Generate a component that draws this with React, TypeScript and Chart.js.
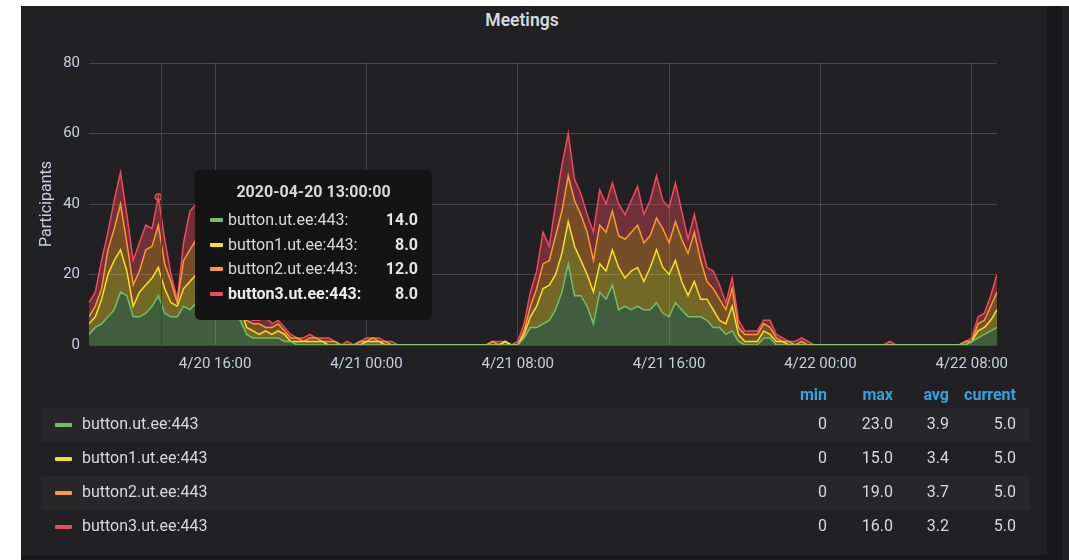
import React, { useEffect, useRef } from "react";
import { Chart, registerables } from "chart.js";

Chart.register(...registerables);

// ---------- data ----------
const seriesNames = ["button.ut.ee:443", "button1.ut.ee:443", "button2.ut.ee:443", "button3.ut.ee:443"];
const seriesColors = ["#73BF69", "#FADE2A", "#FF9830", "#F2495C"];

// samples every 20 minutes, starting 2020-04-20 09:20
const sampleStepHours = 1 / 3;

const buttonValues = [
  3, 5, 6, 8, 10, 15, 14, 8, 8, 9,
  11, 14, 9, 8, 8, 11, 10, 12, 11, 12,
  11, 10, 9, 8, 7, 3, 2, 2, 2, 2,
  2, 1, 1, 0, 0, 0, 0, 0, 0, 0,
  0, 0, 0, 0, 0, 0, 0, 0, 0, 0,
  0, 0, 0, 0, 0, 0, 0, 0, 0, 0,
  0, 0, 0, 0, 0, 0, 0, 0, 0, 2,
  5, 5, 6, 7, 10, 15, 23, 14, 14, 11,
  6, 15, 13, 17, 10, 11, 10, 11, 10, 10,
  12, 9, 8, 12, 10, 8, 8, 8, 7, 5,
  5, 3, 4, 1, 0, 0, 0, 2, 2, 0,
  0, 0, 0, 0, 0, 0, 0, 0, 0, 0,
  0, 0, 0, 0, 0, 0, 0, 0, 0, 0,
  0, 0, 0, 0, 0, 0, 0, 0, 0, 0,
  1, 2, 3, 4, 5,
];
const button1Values = [
  3, 3, 7, 12, 14, 12, 7, 3, 7, 8,
  8, 8, 7, 4, 3, 5, 8, 8, 8, 8,
  7, 6, 5, 4, 4, 2, 2, 1, 2, 1,
  2, 2, 0, 1, 1, 1, 1, 1, 0, 0,
  0, 0, 0, 0, 1, 1, 1, 0, 0, 0,
  0, 0, 0, 0, 0, 0, 0, 0, 0, 0,
  0, 0, 0, 0, 0, 0, 1, 0, 0, 1,
  3, 6, 10, 10, 10, 11, 12, 14, 10, 9,
  9, 8, 8, 10, 12, 8, 11, 11, 8, 12,
  15, 13, 12, 12, 8, 6, 10, 5, 6, 5,
  2, 3, 7, 2, 1, 1, 1, 2, 1, 1,
  1, 0, 0, 0, 0, 0, 0, 0, 0, 0,
  0, 0, 0, 0, 0, 0, 0, 0, 0, 0,
  0, 0, 0, 0, 0, 0, 0, 0, 0, 0,
  0, 2, 2, 3, 5,
];
const button2Values = [
  2, 3, 3, 7, 9, 13, 8, 6, 6, 10,
  9, 12, 7, 6, 1, 8, 9, 10, 9, 9,
  8, 7, 6, 5, 3, 2, 2, 3, 1, 2,
  2, 1, 1, 1, 0, 1, 1, 0, 1, 1,
  0, 0, 0, 1, 0, 1, 0, 1, 0, 0,
  0, 0, 0, 0, 0, 0, 0, 0, 0, 0,
  0, 0, 0, 0, 1, 0, 0, 0, 0, 1,
  3, 5, 7, 7, 11, 12, 13, 13, 13, 12,
  9, 11, 11, 11, 9, 11, 11, 12, 11, 9,
  9, 11, 9, 11, 12, 12, 14, 11, 5, 6,
  6, 4, 5, 2, 2, 2, 2, 2, 2, 1,
  0, 1, 0, 1, 0, 0, 0, 0, 0, 0,
  0, 0, 0, 0, 0, 0, 0, 0, 0, 0,
  0, 0, 0, 0, 0, 0, 0, 0, 0, 1,
  0, 2, 2, 4, 5,
];
const button3Values = [
  4, 4, 8, 5, 8, 9, 8, 7, 8, 7,
  5, 8, 7, 2, 1, 5, 11, 10, 8, 9,
  7, 7, 6, 5, 4, 1, 1, 1, 3, 1,
  1, 1, 1, 0, 1, 1, 0, 1, 1, 0,
  0, 1, 0, 0, 1, 0, 1, 0, 1, 0,
  0, 0, 0, 0, 0, 0, 0, 0, 0, 0,
  0, 0, 0, 0, 0, 1, 0, 0, 1, 2,
  4, 5, 9, 4, 9, 13, 12, 6, 6, 5,
  8, 10, 8, 8, 9, 7, 9, 11, 8, 10,
  12, 8, 10, 11, 8, 4, 5, 5, 4, 5,
  4, 2, 3, 2, 1, 1, 1, 1, 2, 1,
  1, 0, 1, 1, 1, 0, 0, 0, 0, 0,
  0, 0, 0, 0, 0, 0, 0, 1, 0, 0,
  0, 0, 0, 0, 0, 0, 0, 0, 0, 0,
  1, 2, 2, 3, 5,
];
const seriesValues = [buttonValues, button1Values, button2Values, button3Values];

// x axis in hours since 2020-04-20 09:20
const xMaxHours = 48;
const xTickHours = [20 / 3, 44 / 3, 68 / 3, 92 / 3, 116 / 3, 140 / 3];
const xTickLabels = ["4/20 16:00", "4/21 00:00", "4/21 08:00", "4/21 16:00", "4/22 00:00", "4/22 08:00"];
const yMax = 80;
const yTickStep = 20;
const yAxisTitle = "Participants";
const panelTitle = "Meetings";

// hover state
const hoverIndex = 11;
const hoverTimeLabel = "2020-04-20 13:00:00";
const crosshairHours = 3.8;

// legend table
const legendHeaders = ["min", "max", "avg", "current"];
const legendMin = ["0", "0", "0", "0"];
const legendMax = ["23.0", "15.0", "19.0", "16.0"];
const legendAvg = ["3.9", "3.4", "3.7", "3.2"];
const legendCurrent = ["5.0", "5.0", "5.0", "5.0"];

// ---------- styles ----------
const FONT = "Roboto, 'Noto Sans', sans-serif";
const PANEL_BG = "#212124";
const TEXT = "#d8d9da";
const TICK = "#c7d0d9";
const GRID = "rgba(255,255,255,0.17)";

function withAlpha(hex: string, a: number) {
  const n = parseInt(hex.slice(1), 16);
  return `rgba(${(n >> 16) & 255},${(n >> 8) & 255},${n & 255},${a})`;
}

const crosshairPlugin = {
  id: "crosshair",
  afterDatasetsDraw(chart: any) {
    const { ctx, chartArea, scales } = chart;
    const x = Math.round(scales.x.getPixelForValue(crosshairHours)) + 0.5;
    ctx.save();
    ctx.strokeStyle = "#b3121b";
    ctx.lineWidth = 1;
    ctx.beginPath();
    ctx.moveTo(x, chartArea.top);
    ctx.lineTo(x, chartArea.bottom);
    ctx.stroke();
    ctx.restore();
  },
};

function MeetingsChart() {
  const ref = useRef<HTMLCanvasElement | null>(null);
  useEffect(() => {
    if (!ref.current) return;
    const datasets = seriesValues.map((vals, k) => ({
      label: seriesNames[k],
      data: vals.map((v, i) => ({ x: i * sampleStepHours, y: v })),
      borderColor: seriesColors[k],
      backgroundColor: withAlpha(seriesColors[k], 0.38),
      borderWidth: 1.5,
      pointRadius: (c: any) => (k === 3 && c.dataIndex === hoverIndex ? 3 : 0),
      pointBorderColor: seriesColors[k],
      pointBackgroundColor: "rgba(0,0,0,0)",
      pointBorderWidth: 1.5,
      fill: k === 0 ? "origin" : "-1",
      tension: 0,
    }));
    const chart = new Chart(ref.current, {
      type: "line",
      data: { datasets } as any,
      options: {
        animation: false,
        responsive: false,
        devicePixelRatio: 1,
        events: [],
        layout: { padding: { left: 12, right: 50, top: 27, bottom: 0 } },
        plugins: {
          legend: { display: false },
          tooltip: { enabled: false },
          title: { display: false },
        },
        scales: {
          x: {
            type: "linear",
            min: 0,
            max: xMaxHours,
            afterBuildTicks: (s: any) => {
              s.ticks = xTickHours.map((v) => ({ value: v }));
            },
            afterFit: (s: any) => {
              s.height = 41;
            },
            grid: { color: GRID, drawTicks: false },
            border: { display: false },
            ticks: {
              autoSkip: false,
              maxRotation: 0,
              padding: 10,
              color: TICK,
              font: { family: FONT, size: 15 },
              callback: (_v: any, i: number) => xTickLabels[i],
            },
          },
          y: {
            stacked: true,
            min: 0,
            max: yMax,
            afterFit: (s: any) => {
              s.width = 56;
            },
            grid: { color: GRID, drawTicks: false },
            border: { display: false },
            ticks: {
              stepSize: yTickStep,
              padding: 9,
              color: TICK,
              font: { family: FONT, size: 15 },
            },
            title: {
              display: true,
              text: yAxisTitle,
              color: TICK,
              font: { family: FONT, size: 16 },
              padding: { top: 4, bottom: 0 },
            },
          },
        },
      } as any,
      plugins: [crosshairPlugin],
    });
    return () => chart.destroy();
  }, []);
  return (
    <canvas
      ref={ref}
      width={1026}
      height={350}
      style={{ position: "absolute", left: 21, top: 36, width: 1026, height: 350 }}
    />
  );
}

function Tooltip() {
  return (
    <div
      style={{
        position: "absolute",
        left: 195,
        top: 170,
        width: 237,
        height: 150,
        background: "#141414",
        borderRadius: 5,
        fontFamily: FONT,
        color: TEXT,
      }}
    >
      <div
        style={{
          position: "absolute",
          left: 0,
          width: 237,
          top: 12,
          textAlign: "center",
          fontWeight: 700,
          fontSize: 16,
          lineHeight: "20px",
        }}
      >
        {hoverTimeLabel}
      </div>
      {seriesNames.map((name, k) => (
        <div key={k} style={{ position: "absolute", left: 0, width: 237, top: 40 + k * 24.5, height: 20 }}>
          <div
            style={{
              position: "absolute",
              left: 15,
              top: 8,
              width: 13,
              height: 4,
              borderRadius: 1,
              background: seriesColors[k],
            }}
          />
          <div
            style={{
              position: "absolute",
              left: 33,
              top: 0,
              fontSize: 16,
              lineHeight: "20px",
              fontWeight: k === 3 ? 700 : 400,
              color: k === 3 ? "#ececec" : TEXT,
            }}
          >
            {name}:
          </div>
          <div
            style={{
              position: "absolute",
              right: 14,
              top: 0,
              fontSize: 16,
              lineHeight: "20px",
              fontWeight: 700,
              color: "#e6e6e6",
            }}
          >
            {seriesValues[k][hoverIndex].toFixed(1)}
          </div>
        </div>
      ))}
    </div>
  );
}

function LegendTable() {
  const rights = [203, 137, 81, 14];
  const cols = [legendMin, legendMax, legendAvg, legendCurrent];
  return (
    <div style={{ fontFamily: FONT }}>
      <div style={{ position: "absolute", left: 41, top: 385, width: 989, height: 20 }}>
        {legendHeaders.map((h, c) => (
          <div
            key={h}
            style={{
              position: "absolute",
              right: rights[c],
              top: 0,
              fontSize: 16,
              lineHeight: "20px",
              fontWeight: 700,
              color: "#33a2e5",
            }}
          >
            {h}
          </div>
        ))}
      </div>
      {seriesNames.map((name, k) => (
        <div
          key={name}
          style={{
            position: "absolute",
            left: 41,
            top: 408 + k * 34,
            width: 989,
            height: 34,
            background: k % 2 === 0 ? "#272729" : "transparent",
          }}
        >
          <div
            style={{
              position: "absolute",
              left: 14,
              top: 15,
              width: 17,
              height: 4,
              borderRadius: 1,
              background: seriesColors[k],
            }}
          />
          <div
            style={{
              position: "absolute",
              left: 41,
              top: 6,
              fontSize: 16,
              lineHeight: "20px",
              color: TEXT,
            }}
          >
            {name}
          </div>
          {cols.map((col, c) => (
            <div
              key={c}
              style={{
                position: "absolute",
                right: rights[c],
                top: 6,
                fontSize: 16,
                lineHeight: "20px",
                color: TEXT,
              }}
            >
              {col[k]}
            </div>
          ))}
        </div>
      ))}
    </div>
  );
}

export default function App() {
  return (
    <div
      style={{
        position: "fixed",
        left: 0,
        top: 0,
        width: 1069,
        height: 560,
        background: "#ffffff",
        overflow: "hidden",
      }}
    >
      <div style={{ position: "absolute", left: 21, top: 6, width: 1048, height: 554, background: "#18181a" }} />
      <div style={{ position: "absolute", left: 1062, top: 6, width: 7, height: 554, background: "#222226" }} />
      <div style={{ position: "absolute", left: 21, top: 6, width: 1026, height: 549, background: PANEL_BG }}>
        <div
          style={{
            position: "absolute",
            left: 401,
            top: 4,
            width: 200,
            textAlign: "center",
            fontFamily: FONT,
            fontWeight: 600,
            fontSize: 17.5,
            lineHeight: "20px",
            color: TEXT,
          }}
        >
          {panelTitle}
        </div>
      </div>
      <MeetingsChart />
      <Tooltip />
      <LegendTable />
    </div>
  );
}
